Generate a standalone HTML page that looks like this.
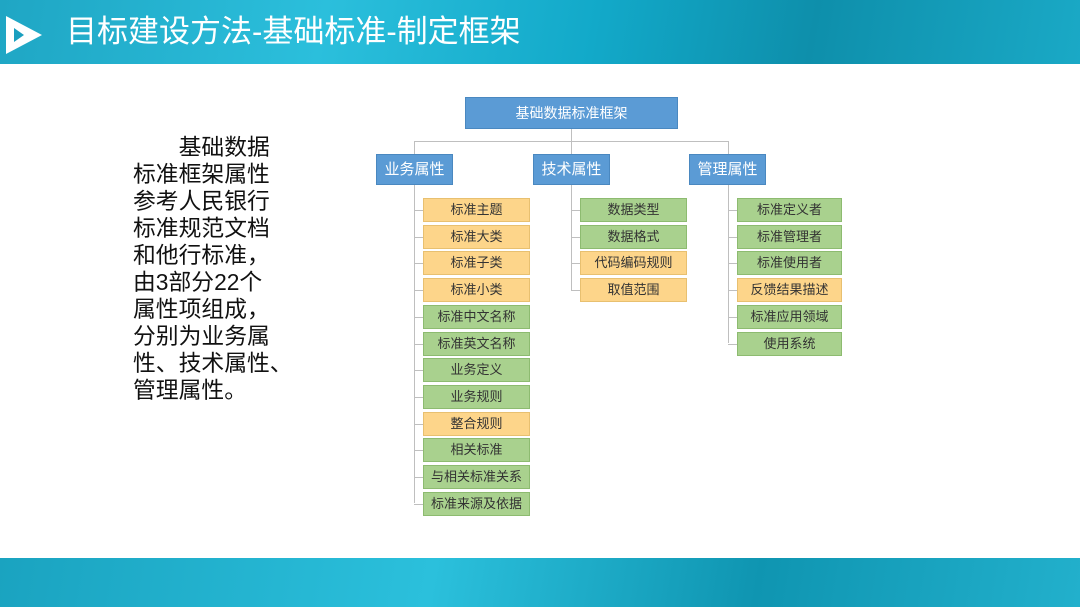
<!DOCTYPE html>
<html><head><meta charset="utf-8"><style>
body{margin:0;width:1080px;height:607px;position:relative;overflow:hidden;background:#fff;font-family:"Liberation Sans","Noto Sans CJK SC",sans-serif}
.hdr{position:absolute;left:0;top:0;width:1080px;height:64px;background:linear-gradient(100deg,#1fa6c4 0%,#2bbfdc 30%,#12a9c9 55%,#0e8fab 75%,#1aa9c6 100%)}
.ftr{position:absolute;left:0;top:558px;width:1080px;height:49px;background:linear-gradient(100deg,#1aa3c0,#2bc0dc 40%,#0f95b1 70%,#22b0cc)}
.title{position:absolute;left:66px;top:13px;color:#fff;font-size:31px;line-height:38px}
.b{position:absolute;box-sizing:border-box;text-align:center;font-size:13px;color:#333}
.blue{background:#5b9bd5;color:#fff;border:1px solid #4a88c0}
.o{background:#fdd58a;border:1px solid #e8c070}
.g{background:#a9d18e;border:1px solid #8dbb70}
.l{position:absolute;background:#bfbfbf}
.txt{position:absolute;left:133px;top:134px;font-size:22.8px;line-height:27px;color:#111;white-space:nowrap}
</style></head><body>
<div class="hdr"></div>
<svg style="position:absolute;left:4px;top:14px" width="40" height="42"><polygon points="2,2 38,21 2,40" fill="#fff"/><polygon points="10,14 20,21 10,28" fill="#1a9fbf"/></svg>
<div class="title">目标建设方法-基础标准-制定框架</div>
<div class="ftr"></div>
<div class="txt">&emsp;&emsp;基础数据<br>标准框架属性<br>参考人民银行<br>标准规范文档<br>和他行标准，<br>由3部分22个<br>属性项组成，<br>分别为业务属<br>性、技术属性、<br>管理属性。</div>

<div class="l" style="left:571px;top:129px;width:1px;height:13px"></div>
<div class="l" style="left:414px;top:141px;width:315px;height:1px"></div>
<div class="l" style="left:414px;top:141px;width:1px;height:13px"></div>
<div class="l" style="left:571px;top:141px;width:1px;height:13px"></div>
<div class="l" style="left:728px;top:141px;width:1px;height:13px"></div>
<div class="l" style="left:414px;top:185px;width:1px;height:318px"></div>
<div class="l" style="left:571px;top:185px;width:1px;height:105px"></div>
<div class="l" style="left:728px;top:185px;width:1px;height:158px"></div>

<div class="b blue" style="left:465px;top:97px;width:213px;height:32px;line-height:30px;font-size:14px">基础数据标准框架</div>
<div class="b blue" style="left:376px;top:154px;width:77px;height:31px;line-height:29px;font-size:15px">业务属性</div>
<div class="b blue" style="left:533px;top:154px;width:77px;height:31px;line-height:29px;font-size:15px">技术属性</div>
<div class="b blue" style="left:689px;top:154px;width:77px;height:31px;line-height:29px;font-size:15px">管理属性</div>

<div id="c"></div>
<script>
var cols=[[414,423,107,[["标准主题","o"],["标准大类","o"],["标准子类","o"],["标准小类","o"],["标准中文名称","g"],["标准英文名称","g"],["业务定义","g"],["业务规则","g"],["整合规则","o"],["相关标准","g"],["与相关标准关系","g"],["标准来源及依据","g"]]],
[571,580,107,[["数据类型","g"],["数据格式","g"],["代码编码规则","o"],["取值范围","o"]]],
[728,737,105,[["标准定义者","g"],["标准管理者","g"],["标准使用者","g"],["反馈结果描述","o"],["标准应用领域","g"],["使用系统","g"]]]];
var h="";
cols.forEach(function(c){c[3].forEach(function(it,i){var y=198+i*26.7;
h+='<div class="l" style="left:'+c[0]+'px;top:'+(y+12)+'px;width:9px;height:1px"></div>';
h+='<div class="b '+it[1]+'" style="left:'+c[1]+'px;top:'+y+'px;width:'+c[2]+'px;height:24px;line-height:22px">'+it[0]+'</div>';});});
document.getElementById("c").innerHTML=h;
</script>
</body></html>
